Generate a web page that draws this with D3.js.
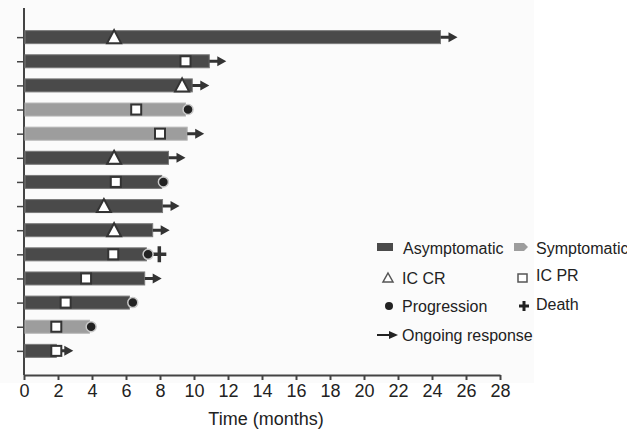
<!DOCTYPE html>
<html>
<head>
<meta charset="utf-8">
<script src="https://cdn.jsdelivr.net/npm/d3@7"></script>
<style>
  body { margin: 0; background: #fff; }
  text { font-family: "Liberation Sans", Arial, sans-serif; fill: #222; }
</style>
</head>
<body>
<div id="chart"></div>
<script>
// patients from top to bottom
var barEnd   = [24.5, 10.9, 9.9, 9.5, 9.6, 8.5, 8.1, 8.15, 7.57, 7.2, 7.1, 6.2, 3.85, 1.9];
var barType  = ["Asymptomatic","Asymptomatic","Asymptomatic","Symptomatic","Symptomatic","Asymptomatic","Asymptomatic",
                "Asymptomatic","Asymptomatic","Asymptomatic","Asymptomatic","Asymptomatic","Symptomatic","Asymptomatic"];
var icType   = ["CR","PR","CR","PR","PR","CR","PR","CR","CR","PR","PR","PR","PR","PR"];
var icTime   = [5.3, 9.5, 9.3, 6.6, 8.0, 5.3, 5.4, 4.7, 5.3, 5.25, 3.65, 2.45, 1.9, 1.9];
var progTime = [null, null, null, 9.65, null, null, 8.2, null, null, 7.3, null, 6.4, 3.95, null];
var deathTime = [null, null, null, null, null, null, null, null, null, 7.96, null, null, null, null];
var ongoing  = [true, true, true, false, true, true, false, true, true, false, true, false, false, true];
var xTicks = d3.range(0, 29, 2);

var svgWidth = 627, svgHeight = 431;
var x0 = 24, x1 = 500, yTop = 13, yBot = 375;

var svg = d3.select("#chart").append("svg")
  .attr("width", svgWidth)
  .attr("height", svgHeight);

var data = barEnd.map(function(d, i) {
  return {row: barEnd.length - i, end: d, type: barType[i], ic: icType[i], icT: icTime[i],
          prog: progTime[i], death: deathTime[i], ongoing: ongoing[i]};
});

var x = d3.scaleLinear().domain([0, 28]).range([x0, x1]);
var y = d3.scaleLinear().domain([0, 15]).range([yBot, yTop]);
var colors = {Asymptomatic: "#4a4a4a", Symptomatic: "#9d9d9d"};

// faint plot panel
svg.append("rect").attr("x", 0).attr("y", 0).attr("width", 534).attr("height", 383).attr("fill", "#fbfbfb");

// axes
var xAxis = svg.append("g")
  .attr("transform", `translate(0, ${yBot})`)
  .call(d3.axisBottom(x).tickValues(xTicks).tickSize(5).tickPadding(4).tickSizeOuter(0));
xAxis.select(".domain").attr("stroke", "#444").attr("stroke-width", 2);
xAxis.selectAll(".tick line").attr("stroke", "#444").attr("stroke-width", 2);
xAxis.selectAll("text").style("font-size", "18px").attr("fill", "#222");

var yAxis = svg.append("g")
  .attr("transform", `translate(${x0}, 0)`)
  .call(d3.axisLeft(y).tickValues(d3.range(1, 15)).tickSize(7).tickFormat("").tickSizeOuter(0));
yAxis.select(".domain").attr("stroke", "#444").attr("stroke-width", 2).attr("d", `M0,${yBot}V8`);
yAxis.selectAll(".tick line").attr("stroke", "#444").attr("stroke-width", 1.5);

svg.append("text")
  .attr("x", (x0 + x1) / 2 + 4)
  .attr("y", 425)
  .attr("text-anchor", "middle")
  .style("font-size", "18px")
  .text("Time (months)");

var barH = 13;

// bars
svg.selectAll(".bar").data(data).enter().append("rect")
  .attr("class", "bar")
  .attr("x", x(0) + 1)
  .attr("y", d => y(d.row) - barH / 2)
  .attr("width", d => x(d.end) - x(0) - 1)
  .attr("height", barH)
  .attr("fill", d => colors[d.type])
  .attr("stroke", d => d.type == "Asymptomatic" ? "#7a7a7a" : "#b5b5b5")
  .attr("stroke-width", 1);

// ongoing arrows
function arrowPath(px, py) {
  return `M${px},${py - 1.5}H${px + 8}V${py - 5}L${px + 17},${py}L${px + 8},${py + 5}V${py + 1.5}H${px}Z`;
}
svg.selectAll(".arrow").data(data.filter(d => d.ongoing)).enter().append("path")
  .attr("class", "arrow")
  .attr("d", d => arrowPath(x(d.end), y(d.row)))
  .attr("fill", "#333");

// death
svg.selectAll(".death").data(data.filter(d => d.death != null)).enter().append("path")
  .attr("d", d => `M${x(d.death) - 7},${y(d.row)}H${x(d.death) + 7}M${x(d.death)},${y(d.row) - 8}V${y(d.row) + 8}`)
  .attr("stroke", "#333").attr("stroke-width", 3.5);

// progression
svg.selectAll(".prog").data(data.filter(d => d.prog != null)).enter().append("circle")
  .attr("cx", d => x(d.prog))
  .attr("cy", d => y(d.row))
  .attr("r", 5)
  .attr("fill", "#222")
  .attr("stroke", "#c8c8c8")
  .attr("stroke-width", 1.5);

// IC response markers
function triPath(px, py) {
  return `M${px},${py - 7}L${px + 7},${py + 6}L${px - 7},${py + 6}Z`;
}
svg.selectAll(".cr").data(data.filter(d => d.ic == "CR")).enter().append("path")
  .attr("d", d => triPath(x(d.icT), y(d.row)))
  .attr("fill", "#fff").attr("stroke", "#333").attr("stroke-width", 2);

svg.selectAll(".pr").data(data.filter(d => d.ic == "PR")).enter().append("rect")
  .attr("x", d => x(d.icT) - 5)
  .attr("y", d => y(d.row) - 5)
  .attr("width", 10).attr("height", 10)
  .attr("fill", "#fff").attr("stroke", "#333").attr("stroke-width", 2);

// legend
var lg = svg.append("g").style("font-size", "16px");
lg.append("rect").attr("x", 377).attr("y", 243).attr("width", 16).attr("height", 8).attr("fill", "#4a4a4a");
lg.append("text").attr("x", 403).attr("y", 254).text("Asymptomatic");
lg.append("path").attr("d", "M514,243H524L528,247L524,251H514Z").attr("fill", "#9d9d9d");
lg.append("text").attr("x", 536).attr("y", 254).text("Symptomatic");

lg.append("path").attr("d", "M388,273L393,282L383,282Z").attr("fill", "#fff").attr("stroke", "#555").attr("stroke-width", 1.5);
lg.append("text").attr("x", 402).attr("y", 284).text("IC CR");
lg.append("rect").attr("x", 518).attr("y", 274).attr("width", 9).attr("height", 8).attr("fill", "#fff").attr("stroke", "#555").attr("stroke-width", 1.5);
lg.append("text").attr("x", 536).attr("y", 281).text("IC PR");

lg.append("circle").attr("cx", 389).attr("cy", 306).attr("r", 4).attr("fill", "#222");
lg.append("text").attr("x", 402).attr("y", 312).text("Progression");
lg.append("path").attr("d", "M519,306H529M524,301V311").attr("stroke", "#222").attr("stroke-width", 3);
lg.append("text").attr("x", 536).attr("y", 310).text("Death");

lg.append("path").attr("d", "M377,334H389V331L398,335L389,339V336H377Z").attr("fill", "#222");
lg.append("text").attr("x", 402).attr("y", 341).text("Ongoing response");
</script>
</body>
</html>
